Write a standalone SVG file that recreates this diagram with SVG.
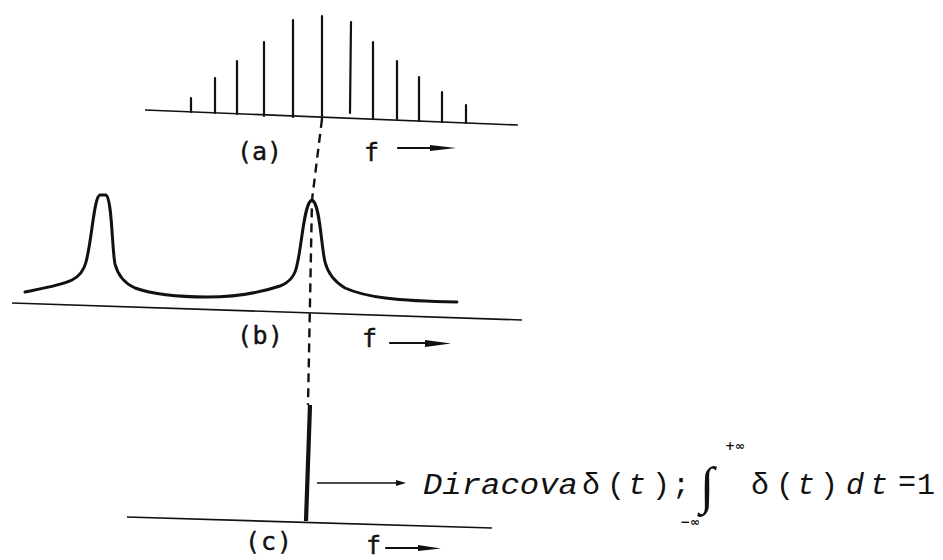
<svg xmlns="http://www.w3.org/2000/svg" width="943" height="560" viewBox="0 0 943 560">
<style>
.ax{stroke:#111;stroke-width:1.6;fill:none}
.ln{stroke:#111;stroke-width:2.2;fill:none;stroke-linecap:round}
.cv{stroke:#111;stroke-width:3;fill:none;stroke-linejoin:round;stroke-linecap:round}
.dash{stroke:#111;stroke-width:2.4;fill:none;stroke-dasharray:9 6}
.lbl{font-family:"DejaVu Sans Mono","Liberation Mono",monospace;font-size:25px;fill:#111;stroke:#111;stroke-width:0.4}
.fm{font-family:"Liberation Mono","DejaVu Sans Mono",monospace;font-size:30px;fill:#111}
.it{font-style:italic}
.sm{font-family:"DejaVu Sans","Liberation Sans",sans-serif;font-size:12px;fill:#111;font-weight:bold}
</style>
<rect width="943" height="560" fill="#fff"/>
<g id="panel-a">
<line class="ax" x1="145" y1="110" x2="518" y2="125"/>
<g class="ln">
<line x1="191" y1="98" x2="191" y2="112"/>
<line x1="215" y1="78" x2="215" y2="113"/>
<line x1="237" y1="61" x2="237" y2="114"/>
<line x1="264" y1="42" x2="264" y2="116"/>
<line x1="293" y1="20" x2="293" y2="117"/>
<line x1="322" y1="16" x2="322" y2="119"/>
<line x1="351" y1="22" x2="350" y2="113"/>
<line x1="373" y1="42" x2="373" y2="118"/>
<line x1="397" y1="61" x2="397" y2="119"/>
<line x1="419" y1="77" x2="419" y2="121"/>
<line x1="442" y1="92" x2="442" y2="122"/>
<line x1="466" y1="105" x2="466" y2="123"/>
</g>
<text class="lbl" x="237" y="160" textLength="45">(a)</text>
<text class="lbl" x="364" y="161">f</text>
<line class="ln" x1="398" y1="148" x2="436" y2="148"/>
<path d="M430,145 L456,148 L430,151 Z" fill="#111"/>
</g>
<g id="panel-b">
<line class="ax" x1="12" y1="303" x2="522" y2="320"/>
<path class="cv" d="M25,292 C45,288 62,285 72,280 C80,276 84,270 86,262 C92,240 94,196 100,195 L106,195 C112,198 112,250 115,264 C118,276 124,283 135,288 C155,295 180,297 207,297 C235,297 262,292 280,286 C290,282 295,276 297,265 C302,245 304,202 312,200 C320,203 321,245 325,262 C328,274 335,282 345,288 C365,297 395,301 457,302"/>
<text class="lbl" x="237" y="344" textLength="46">(b)</text>
<text class="lbl" x="362" y="347">f</text>
<line class="ln" x1="390" y1="343" x2="432" y2="343"/>
<path d="M425,340 L451,343.5 L425,347 Z" fill="#111"/>
</g>
<g id="panel-c">
<line class="ax" x1="127" y1="517" x2="492" y2="528"/>
<line x1="310" y1="405" x2="306" y2="521" stroke="#111" stroke-width="4.2"/>
<text class="lbl" x="245" y="550" textLength="47">(c)</text>
<text class="lbl" x="366" y="554">f</text>
<line class="ln" x1="386" y1="548" x2="425" y2="548"/>
<path d="M418,545 L441,548.5 L418,551 Z" fill="#111"/>
</g>
<g id="dirac-label">
<line x1="317" y1="483" x2="398" y2="483" stroke="#111" stroke-width="1.5"/>
<path d="M396,480 L406,483 L396,486 Z" fill="#111"/>
<text class="fm it" x="423" y="494" textLength="155" lengthAdjust="spacingAndGlyphs">Diracova</text>
<text class="fm" x="582" y="494">δ</text>
<text class="fm" x="607" y="494">(</text>
<text class="fm it" x="628" y="494">t</text>
<text class="fm" x="652" y="494">)</text>
<text class="fm" x="672" y="494">;</text>
<text x="700" y="503" font-family="Liberation Serif,serif" font-size="52" fill="#111">∫</text>
<text class="sm" x="725" y="450">+∞</text>
<text class="sm" x="680" y="526">−∞</text>
<text class="fm" x="751" y="494">δ</text>
<text class="fm" x="776" y="494">(</text>
<text class="fm it" x="797" y="494">t</text>
<text class="fm" x="820" y="494">)</text>
<text class="fm it" x="846" y="494">d</text>
<text class="fm it" x="870" y="494">t</text>
<text class="fm" x="898" y="491" font-size="16">=</text>
<text class="fm" x="917" y="494">1</text>
</g>
<g id="connectors">
<polyline class="dash" points="322,119 312,200 308,405"/>
</g>
</svg>
